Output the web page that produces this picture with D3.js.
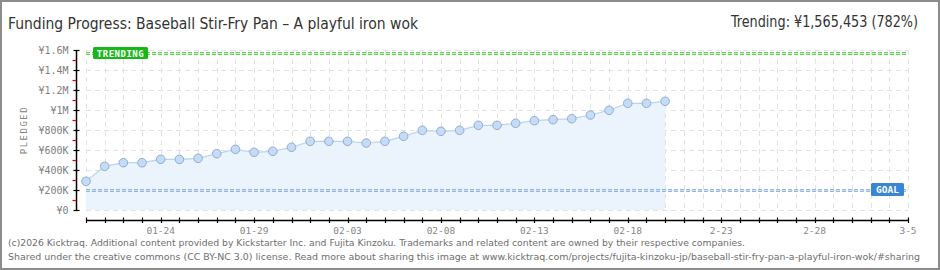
<!DOCTYPE html>
<html>
<head>
<meta charset="utf-8">
<script src="https://cdn.jsdelivr.net/npm/d3@7"></script>
<style>
  body { margin: 0; background: #fff; }
  svg { display: block; }
  .pix { font-family: "DejaVu Sans Mono", monospace; }
</style>
</head>
<body>
<svg id="chart" width="940" height="270"></svg>
<script>
// DATA
var days = ["2026-01-20","2026-01-21","2026-01-22","2026-01-23","2026-01-24","2026-01-25","2026-01-26","2026-01-27",
            "2026-01-28","2026-01-29","2026-01-30","2026-01-31","2026-02-01","2026-02-02","2026-02-03","2026-02-04",
            "2026-02-05","2026-02-06","2026-02-07","2026-02-08","2026-02-09","2026-02-10","2026-02-11","2026-02-12",
            "2026-02-13","2026-02-14","2026-02-15","2026-02-16","2026-02-17","2026-02-18","2026-02-19","2026-02-20"];
var pledged = [287000, 437000, 473000, 473000, 507000, 507000, 517000, 563000,
               607000, 577000, 587000, 627000, 687000, 687000, 687000, 670000,
               687000, 737000, 797000, 787000, 797000, 847000, 847000, 867000,
               893000, 903000, 913000, 950000, 997000, 1067000, 1067000, 1087000];
var xTickDates = ["2026-01-24","2026-01-29","2026-02-03","2026-02-08","2026-02-13","2026-02-18","2026-02-23","2026-02-28","2026-03-05"];
var xTickLabels = ["01-24","01-29","02-03","02-08","02-13","02-18","2-23","2-28","3-5"];
var yTicks = [0, 200000, 400000, 600000, 800000, 1000000, 1200000, 1400000, 1600000];
var yTickLabels = ["¥0","¥200K","¥400K","¥600K","¥800K","¥1M","¥1.2M","¥1.4M","¥1.6M"];
var goal = 200000;
var trending = 1565453;

var titleText = "Funding Progress: Baseball Stir-Fry Pan \u2013 A playful iron wok";
var trendText = "Trending: ¥1,565,453 (782%)";
var footer1 = "(c)2026 Kicktraq. Additional content provided by Kickstarter Inc. and Fujita Kinzoku. Trademarks and related content are owned by their respective companies.";
var footer2 = "Shared under the creative commons (CC BY-NC 3.0) license. Read more about sharing this image at www.kicktraq.com/projects/fujita-kinzoku-jp/baseball-stir-fry-pan-a-playful-iron-wok/#sharing";

var parse = d3.utcParse("%Y-%m-%d");
var data = days.map(function(d, i){ return {date: parse(d), value: pledged[i]}; });

var svg = d3.select("#chart");

// frame
svg.append("rect").attr("x", 1).attr("y", 1).attr("width", 938).attr("height", 268)
  .attr("fill", "#fff").attr("stroke", "#8c8c8c").attr("stroke-width", 2);

// scales
var x = d3.scaleUtc().domain([parse("2026-01-20"), parse("2026-03-05")]).range([86, 908]);
var y = d3.scaleLinear().domain([0, 1600000]).range([210, 50]);
var allDays = d3.utcDay.range(parse("2026-01-20"), d3.utcDay.offset(parse("2026-03-05"), 1));

// grid
var grid = svg.append("g").attr("stroke", "#e2e2e2").attr("stroke-dasharray", "5,4").attr("stroke-width", 1);
grid.selectAll("line.v").data(allDays).enter().append("line")
  .attr("x1", function(d){ return Math.round(x(d)) + 0.5; })
  .attr("x2", function(d){ return Math.round(x(d)) + 0.5; })
  .attr("y1", 50).attr("y2", 210);
grid.selectAll("line.h").data(yTicks).enter().append("line")
  .attr("x1", 86).attr("x2", 908)
  .attr("y1", function(d){ return Math.round(y(d)) + 0.5; })
  .attr("y2", function(d){ return Math.round(y(d)) + 0.5; });

// area + line
svg.append("path").datum(data)
  .attr("fill", "#ebf3fc")
  .attr("d", d3.area().x(function(d){ return x(d.date); }).y0(y(0)).y1(function(d){ return y(d.value); }));
svg.append("path").datum(data)
  .attr("fill", "none").attr("stroke", "#b8d4f2").attr("stroke-width", 1.2)
  .attr("d", d3.line().x(function(d){ return x(d.date); }).y(function(d){ return y(d.value); }));

// goal line
var gy = Math.round(y(goal)) + 0.5;
svg.append("line").attr("x1", 86).attr("x2", 908).attr("y1", gy).attr("y2", gy)
  .attr("stroke", "#94b9e3").attr("stroke-width", 3).attr("stroke-dasharray", "4,2");
svg.append("line").attr("x1", 86).attr("x2", 908).attr("y1", gy).attr("y2", gy)
  .attr("stroke", "#c9dcf2").attr("stroke-width", 1).attr("stroke-dasharray", "4,2");

// trending line
var ty = Math.round(y(trending)) + 0.5;
svg.append("line").attr("x1", 86).attr("x2", 908).attr("y1", ty).attr("y2", ty)
  .attr("stroke", "#5fd34f").attr("stroke-width", 3).attr("stroke-dasharray", "4,2");
svg.append("line").attr("x1", 86).attr("x2", 908).attr("y1", ty).attr("y2", ty)
  .attr("stroke", "#c6f2bf").attr("stroke-width", 1).attr("stroke-dasharray", "4,2");

// points
svg.selectAll("circle.pt").data(data).enter().append("circle")
  .attr("cx", function(d){ return x(d.date); })
  .attr("cy", function(d){ return y(d.value); })
  .attr("r", 4.3)
  .attr("fill", "#c4dcf6").attr("stroke", "#93acd0").attr("stroke-width", 1);

// TRENDING badge
svg.append("rect").attr("x", 93).attr("y", 47).attr("width", 55).attr("height", 12).attr("rx", 1.5)
  .attr("fill", "#16b716");
svg.append("text").attr("class", "pix").attr("x", 120.5).attr("y", 56.5).attr("text-anchor", "middle")
  .attr("font-size", 9).attr("font-weight", "bold").attr("fill", "#fff").attr("letter-spacing", 0.5)
  .text("TRENDING");

// GOAL badge
svg.append("rect").attr("x", 871).attr("y", 183).attr("width", 33).attr("height", 13).attr("rx", 1.5)
  .attr("fill", "#3886d6");
svg.append("text").attr("class", "pix").attr("x", 887.5).attr("y", 193).attr("text-anchor", "middle")
  .attr("font-size", 9.5).attr("font-weight", "bold").attr("fill", "#fff")
  .text("GOAL");

// y axis
var yAxis = svg.append("g").attr("transform", "translate(76.5,0)");
yAxis.append("line").attr("x1", 0).attr("x2", 0).attr("y1", 50).attr("y2", 211).attr("stroke", "#000").attr("stroke-width", 1.5);
yAxis.selectAll("line.maj").data(yTicks).enter().append("line")
  .attr("x1", -3).attr("x2", 3)
  .attr("y1", function(d){ return Math.round(y(d)) + 0.5; })
  .attr("y2", function(d){ return Math.round(y(d)) + 0.5; })
  .attr("stroke", "#000").attr("stroke-width", 1.2);
yAxis.selectAll("line.min").data(yTicks.slice(1)).enter().append("line")
  .attr("x1", -4).attr("x2", 0)
  .attr("y1", function(d){ return Math.round(y(d - 100000)) + 0.5; })
  .attr("y2", function(d){ return Math.round(y(d - 100000)) + 0.5; })
  .attr("stroke", "#e00000").attr("stroke-width", 1.2);
yAxis.selectAll("text").data(yTicks).enter().append("text")
  .attr("class", "pix").attr("x", -8).attr("y", function(d){ return y(d) + 3.5; })
  .attr("text-anchor", "end").attr("font-size", 10).attr("fill", "#808080")
  .text(function(d, i){ return yTickLabels[i]; });

svg.append("text").attr("class", "pix")
  .attr("transform", "translate(27,130) rotate(-90)")
  .attr("text-anchor", "middle").attr("font-size", 9).attr("fill", "#808080").attr("letter-spacing", 1.5)
  .text("PLEDGED");

// x axis
var xAxis = svg.append("g").attr("transform", "translate(0,220.5)");
xAxis.append("line").attr("x1", 86).attr("x2", 908).attr("stroke", "#000").attr("stroke-width", 1.5);
xAxis.selectAll("line.t").data(allDays).enter().append("line")
  .attr("x1", function(d){ return Math.round(x(d)) + 0.5; })
  .attr("x2", function(d){ return Math.round(x(d)) + 0.5; })
  .attr("y1", -3).attr("y2", 2.5)
  .attr("stroke", "#000").attr("stroke-width", 1.2);
xAxis.selectAll("text").data(xTickDates).enter().append("text")
  .attr("class", "pix")
  .attr("x", function(d){ return x(parse(d)); })
  .attr("y", 13)
  .attr("text-anchor", "middle").attr("font-size", 9.5).attr("fill", "#888")
  .text(function(d, i){ return xTickLabels[i]; });

// titles
svg.append("text").attr("x", 8).attr("y", 29)
  .attr("font-family", "'DejaVu Sans Condensed', sans-serif").attr("font-size", 16).attr("fill", "#333")
  .attr("textLength", 410).attr("lengthAdjust", "spacingAndGlyphs")
  .text(titleText);
svg.append("text").attr("x", 731).attr("y", 27)
  .attr("font-family", "'DejaVu Sans Condensed', sans-serif").attr("font-size", 16).attr("fill", "#333")
  .attr("textLength", 187).attr("lengthAdjust", "spacingAndGlyphs")
  .text(trendText);

// footer
svg.append("text").attr("x", 8).attr("y", 246)
  .attr("font-family", "'DejaVu Sans Condensed', sans-serif").attr("font-size", 9.5).attr("fill", "#6e6e6e")
  .attr("textLength", 737).attr("lengthAdjust", "spacingAndGlyphs")
  .text(footer1);
svg.append("text").attr("x", 8).attr("y", 260)
  .attr("font-family", "'DejaVu Sans Condensed', sans-serif").attr("font-size", 9.5).attr("fill", "#6e6e6e")
  .attr("textLength", 912).attr("lengthAdjust", "spacingAndGlyphs")
  .text(footer2);
</script>
</body>
</html>
